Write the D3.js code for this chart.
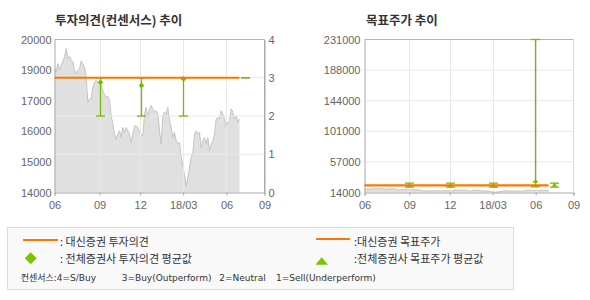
<!DOCTYPE html>
<html>
<head>
<meta charset="utf-8">
<script src="https://cdn.jsdelivr.net/npm/d3@7"></script>
<style>
  body { margin: 0; background: #fff; }
</style>
</head>
<body>
<div id="chart"></div>
<script>
// closing price, one sample per period slot (slot 0 = start of June)
const prices = [18860,18720,19050,18790,18990,19120,19320,19650,19250,19340,
                19190,19120,18790,18660,18790,18860,19160,19050,18920,18530,
                17540,17670,17670,18130,18290,18400,18330,18290,18200,18000,
                17840,17760,17760,17610,17010,16680,16290,16090,16290,16420,
                16160,16550,16360,16550,16420,16290,15960,16290,16620,16620,
                16550,16360,16290,16220,17080,17340,16950,17280,17410,17280,
                17150,17210,17080,16420,15900,17010,17150,17080,17340,16820,
                16550,16160,16360,16030,15900,15960,15370,15040,14710,14250,
                14580,14970,15370,15570,16290,16420,16290,16360,15760,16030,
                16160,15900,16160,15630,15900,16030,16290,16880,16950,16880,
                17210,17080,16880,16550,16750,16820,17280,17150,16880,17010,16750,16880];

const periodTicks = [0, 27, 51.4, 77.2, 103.2, 126];
const periodLabels = ["06", "09", "12", "18/03", "06", "09"];

// left chart
const priceTickLabels = ["14000", "15000", "16000", "17000", "19000", "20000"];
const opinionLevels = [0, 1, 2, 3, 4];
const daishinOpinion = [[0, 3], [111, 3]];
const consensusSlots = [27, 51.8, 77.2, 114.4];
const consensusMin = [2, 2, 2, 3];
const consensusMax = [3, 3, 3, 3];
const consensusAvg = [2.88, 2.8, 2.97, null];

// right chart
const targetTickLabels = ["14000", "57000", "101000", "144000", "188000", "231000"];
const daishinTarget = [[0, 24000], [111, 24000]];
const targetSlots = [27, 51.5, 77.2, 103, 114.4];
const targetMin = [21600, 21600, 21600, 22000, 21600];
const targetMax = [27300, 27300, 27300, 231000, 27300];
const targetAvg = [24200, 24200, 24000, 30500, 24900];

const legendNote = ["컨센서스:4=S/Buy", "3=Buy(Outperform)", "2=Neutral", "1=Sell(Underperform)"];

const ORANGE = "#fb7800";
const GREEN = "#78b800";
const KO = "'Noto Sans CJK KR', sans-serif";
const NUM = "'Liberation Sans', Arial, sans-serif";

const diamond = r => `M0,${-r}L${r},0L0,${r}L${-r},0Z`;
const triangle = r => `M0,${-r * 0.6}L${r},${r * 0.6}L${-r},${r * 0.6}Z`;

const svg = d3.select("#chart")
              .append("svg")
              .attr("width", 590)
              .attr("height", 300);

const plotTop = 39.5, plotBottom = 192.5;

const xL = d3.scaleLinear().domain([0, 126]).range([54.5, 264.5]);
const xR = d3.scaleLinear().domain([0, 126]).range([364.5, 573.5]);
const yPrice = d3.scaleLinear().domain([14000, 20000]).range([plotBottom, plotTop]);
const yOpinion = d3.scaleLinear().domain([0, 4]).range([plotBottom, plotTop]);
const yTarget = d3.scaleLinear().domain([14000, 231000]).range([plotBottom, plotTop]);

function styleAxis(g) {
    g.attr("font-size", 11).attr("font-family", NUM);
    g.select(".domain").attr("stroke", "#aaa");
    g.selectAll(".tick line").attr("stroke", "#aaa");
    g.selectAll(".tick text").attr("fill", "#666");
}

function drawPanel(x, y, gridValues, rightBorder) {
    const g = svg.append("g");
    const [x0, x1] = x.range();

    // price area
    g.append("path")
     .datum(prices)
     .attr("fill", "#e0e0e0")
     .attr("d", d3.area().x((d, i) => x(i)).y0(plotBottom).y1(d => y(d)));
    g.append("path")
     .datum(prices)
     .attr("fill", "none")
     .attr("stroke", "#c4c4c4")
     .attr("d", d3.line().x((d, i) => x(i)).y(d => y(d)));

    // grid
    g.selectAll(".vgrid")
     .data(periodTicks.slice(1, -1))
     .enter().append("line")
     .attr("x1", d => Math.round(x(d)) + 0.5).attr("x2", d => Math.round(x(d)) + 0.5)
     .attr("y1", plotTop).attr("y2", plotBottom)
     .attr("stroke", "#e8e8e8");
    g.selectAll(".hgrid")
     .data(gridValues)
     .enter().append("line")
     .attr("x1", x0).attr("x2", x1)
     .attr("y1", d => d).attr("y2", d => d)
     .attr("stroke", "#e8e8e8");

    // frame
    g.append("line").attr("x1", x0).attr("x2", x1).attr("y1", plotTop).attr("y2", plotTop).attr("stroke", "#b4b4b4");
    g.append("line").attr("x1", x1).attr("x2", x1).attr("y1", plotTop).attr("y2", plotBottom).attr("stroke", rightBorder);

    g.append("g")
     .attr("transform", `translate(0, ${plotBottom})`)
     .call(d3.axisBottom(x).tickValues(periodTicks).tickFormat((d, i) => periodLabels[i]).tickSize(3).tickPadding(6))
     .call(styleAxis);
    return g;
}

function drawBars(g, x, y, slots, mins, maxs, avgs, shape) {
    slots.forEach((s, i) => {
        const cx = Math.round(x(s)) + 0.5;
        g.append("line")
         .attr("x1", cx).attr("x2", cx)
         .attr("y1", y(mins[i])).attr("y2", y(maxs[i]))
         .attr("stroke", GREEN).attr("stroke-width", 1.3);
        [mins[i], maxs[i]].forEach(v => {
            g.append("line")
             .attr("x1", cx - 4.5).attr("x2", cx + 4.5)
             .attr("y1", y(v)).attr("y2", y(v))
             .attr("stroke", GREEN).attr("stroke-width", 1.3);
        });
        if (avgs[i] != null) {
            g.append("path")
             .attr("transform", `translate(${cx}, ${y(avgs[i])})`)
             .attr("d", shape)
             .attr("fill", GREEN);
        }
    });
}

// ---- left: 투자의견
const gL = drawPanel(xL, yPrice, [1, 2, 3].map(v => yOpinion(v)), "#aaa");

gL.append("g")
  .attr("transform", `translate(${xL.range()[0]}, 0)`)
  .call(d3.axisLeft(yPrice)
          .tickValues(d3.range(6).map(i => 14000 + i * 1200))
          .tickFormat((d, i) => priceTickLabels[i])
          .tickSize(0).tickPadding(3))
  .call(styleAxis);

gL.append("g")
  .attr("transform", `translate(${xL.range()[1]}, 0)`)
  .call(d3.axisRight(yOpinion).tickValues(opinionLevels).tickFormat(d3.format("d")).tickSize(0).tickPadding(4))
  .call(styleAxis);

drawBars(gL, xL, yOpinion, consensusSlots, consensusMin, consensusMax, consensusAvg, diamond(2.8));

gL.append("path")
  .datum(daishinOpinion)
  .attr("fill", "none")
  .attr("stroke", ORANGE)
  .attr("stroke-width", 2.2)
  .attr("d", d3.line().x(d => xL(d[0])).y(d => yOpinion(d[1])));

// ---- right: 목표주가
const gR = drawPanel(xR, yTarget,
    d3.range(1, 5).map(i => yTarget(14000 + i * 43400)), "#dcdcdc");

gR.append("g")
  .attr("transform", `translate(${xR.range()[0]}, 0)`)
  .call(d3.axisLeft(yTarget)
          .tickValues(d3.range(6).map(i => 14000 + i * 43400))
          .tickFormat((d, i) => targetTickLabels[i])
          .tickSize(0).tickPadding(4))
  .call(styleAxis);

drawBars(gR, xR, yTarget, targetSlots, targetMin, targetMax, targetAvg, triangle(3));

gR.append("path")
  .datum(daishinTarget)
  .attr("fill", "none")
  .attr("stroke", ORANGE)
  .attr("stroke-width", 2.2)
  .attr("d", d3.line().x(d => xR(d[0])).y(d => yTarget(d[1])));

// titles
svg.append("text")
   .attr("x", 55).attr("y", 25)
   .attr("font-family", KO).attr("font-size", 12.5).attr("font-weight", "bold")
   .attr("fill", "#333")
   .text("투자의견(컨센서스) 추이");
svg.append("text")
   .attr("x", 366).attr("y", 25)
   .attr("font-family", KO).attr("font-size", 12.5).attr("font-weight", "bold")
   .attr("fill", "#333")
   .text("목표주가 추이");

// ---- legend
const lg = svg.append("g");
lg.append("rect")
  .attr("x", 7.5).attr("y", 227.5).attr("width", 506).attr("height", 62)
  .attr("fill", "#f9f9f9").attr("stroke", "#dcdcdc");

lg.append("line").attr("x1", 23).attr("x2", 58).attr("y1", 240).attr("y2", 240)
  .attr("stroke", ORANGE).attr("stroke-width", 2);
lg.append("line").attr("x1", 316).attr("x2", 350).attr("y1", 239).attr("y2", 239)
  .attr("stroke", ORANGE).attr("stroke-width", 2);
lg.append("path")
  .attr("transform", "translate(30.7, 258.3)")
  .attr("d", diamond(6))
  .attr("fill", "#7dc400");
lg.append("path")
  .attr("transform", "translate(321.7, 261)")
  .attr("d", triangle(6.3))
  .attr("fill", "#7dc400");

const legendText = [
    { x: 60, y: 246, t: ": 대신증권 투자의견" },
    { x: 60, y: 263, t: ": 전체증권사 투자의견 평균값" },
    { x: 354, y: 246, t: ":대신증권 목표주가" },
    { x: 354, y: 263, t: ":전체증권사 목표주가 평균값" }
];
lg.selectAll(".lt")
  .data(legendText)
  .enter().append("text")
  .attr("x", d => d.x).attr("y", d => d.y)
  .attr("font-family", KO).attr("font-size", 11)
  .attr("fill", "#333")
  .text(d => d.t);

const noteX = [20.7, 121.7, 219.3, 276];
lg.selectAll(".note")
  .data(legendNote)
  .enter().append("text")
  .attr("x", (d, i) => noteX[i]).attr("y", 281)
  .attr("font-family", "'DejaVu Sans', " + KO).attr("font-size", 9)
  .attr("fill", "#333")
  .text(d => d);
</script>
</body>
</html>
